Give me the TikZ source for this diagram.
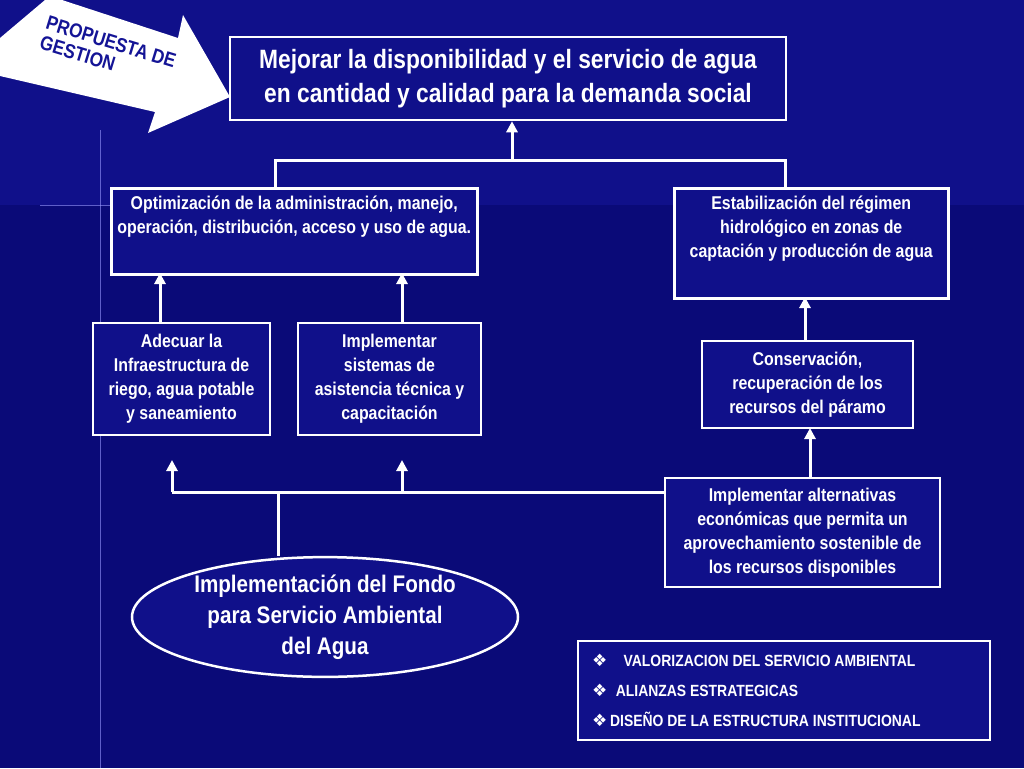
\documentclass[tikz,border=0pt]{standalone}
\usepackage{fontspec}
\setmainfont{Liberation Sans}[FakeStretch=0.86]
\newfontfamily\symfont{DejaVu Sans}
\usetikzlibrary{arrows.meta,shapes.geometric,positioning}
\definecolor{bgblue}{RGB}{16,16,138}
\definecolor{bgdark}{RGB}{10,10,120}
\definecolor{arrowtext}{RGB}{20,20,150}
\tikzset{
  box/.style={draw=white,line width=2.5pt,fill=bgblue,text=white,align=center,font=\bfseries\fontsize{18.5}{24}\selectfont,inner sep=0pt},
  boxtext/.style={text=white,align=center,font=\bfseries\fontsize{18.5}{24}\selectfont,inner sep=0pt},
  link/.style={draw=white,line width=3pt},
  up/.style={link,-{Triangle[length=11pt,width=11pt]}}
}
\newcommand{\diam}{{\symfont\fontsize{17}{17}\selectfont ❖}}
\begin{document}
\begin{tikzpicture}[x=1pt,y=-1pt]
\useasboundingbox (0,0) rectangle (1024,768);
%background
\fill[bgblue] (0,0) rectangle (1024,768);
\fill[bgdark] (0,205) rectangle (1024,768);
\draw[blue!40!white,line width=1pt,opacity=0.6] (40,205) -- (170,205);
\draw[blue!40!white,line width=1pt,opacity=0.6] (100,130) -- (100,768);
%big arrow
\fill[white] (0,38) -- (45,0) -- (62,0) -- (178,38) -- (183,15) -- (230,97) -- (148,133) -- (155,112) -- (0,76) -- cycle;
\node[rotate=-17,text=arrowtext,font=\bfseries\fontsize{20}{21}\selectfont,align=left] (prop) at (108,52) {PROPUESTA DE\\GESTION};
%boxes
\node[box,minimum width=556,minimum height=83,font=\bfseries\fontsize{26.5}{34}\selectfont] (meta) at (508,78.5) {Mejorar la disponibilidad y el servicio de agua\\en cantidad y calidad para la demanda social};
\node[box,minimum width=366,minimum height=86,anchor=north west] (optim) at (110,187) {};
\node[boxtext,below=9pt of optim.north] (optimtxt) {Optimización de la  administración, manejo,\\operación, distribución, acceso y uso de  agua.};
\node[box,minimum width=274,minimum height=110,anchor=north west] (estab) at (673,187) {};
\node[boxtext,below=9pt of estab.north] (estabtxt) {Estabilización del régimen\\hidrológico en zonas de\\captación y producción de agua};
\node[box,minimum width=177,minimum height=112] (adec) at (181.5,379) {Adecuar la\\Infraestructura de\\riego, agua potable\\y saneamiento};
\node[box,minimum width=183,minimum height=112] (asist) at (389.5,379) {Implementar\\sistemas de\\asistencia técnica y\\capacitación};
\node[box,minimum width=211,minimum height=87] (conserv) at (807.5,384.5) {Conservación,\\recuperación  de los\\recursos del páramo};
\node[box,minimum width=275,minimum height=109] (altern) at (802.5,532.5) {Implementar   alternativas\\económicas que permita un\\aprovechamiento sostenible de\\los recursos disponibles};
\node[box,ellipse,minimum width=386,minimum height=110,font=\bfseries\fontsize{24}{31}\selectfont] (fondo) at (325,617) {Implementación del Fondo\\para Servicio Ambiental\\del Agua};
\node[box,minimum width=412,minimum height=99] (lista) at (784,690.5) {};
\node[boxtext,align=left,anchor=west,font=\bfseries\fontsize{16.2}{30}\selectfont] (listatxt) at (592,690.5) {\diam\quad VALORIZACION DEL SERVICIO AMBIENTAL\\\diam\; ALIANZAS ESTRATEGICAS\\\diam\,DISEÑO  DE LA ESTRUCTURA INSTITUCIONAL};
%connectors
\coordinate (jl) at (275,160);
\coordinate (jr) at (785,160);
\draw[link] (jl |- optim.north) -- (jl) -- (jr) -- (jr |- estab.north);
\draw[up] (512,160) -- (meta.south -| 512,0);
\draw[up] (160,323) -- (160,273);
\draw[up] (402,323) -- (402,273);
\draw[up] (805,341) -- (805,297);
\draw[up] (810,478) -- (810,428);
\coordinate (bl) at (172,492);
\coordinate (bm) at (402,492);
\coordinate (bs) at (278,492);
\draw[link] (bl) -- (bl -| altern.west);
\draw[up] (bl) -- (172,460);
\draw[up] (bm) -- (402,460);
\draw[link] (bs) -- (bs |- fondo.north);
\end{tikzpicture}
\end{document}
